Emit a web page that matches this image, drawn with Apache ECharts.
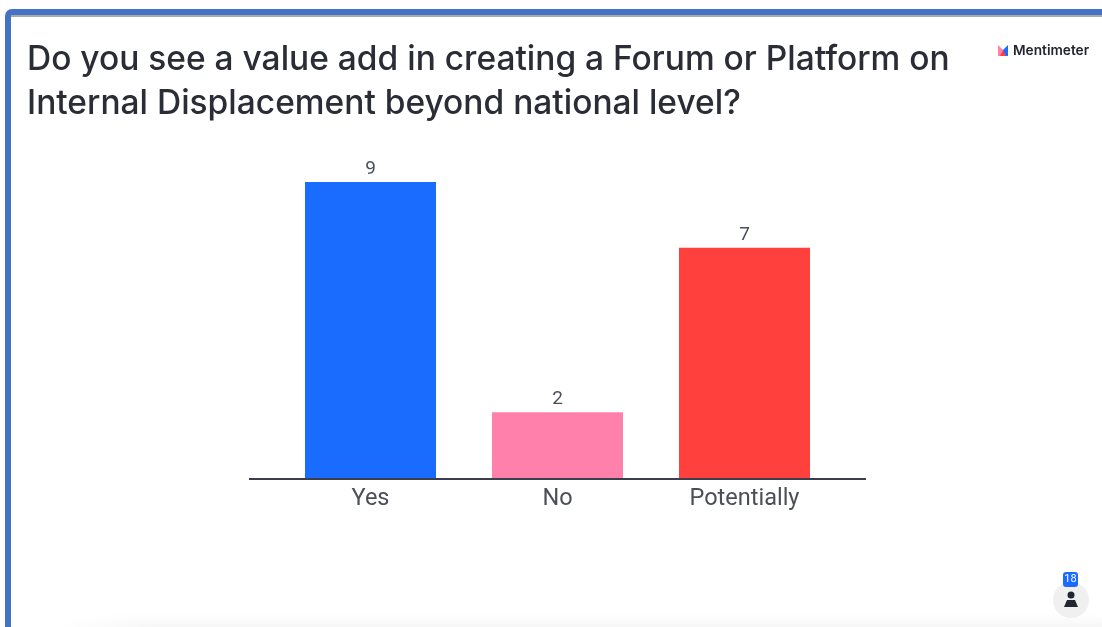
<!DOCTYPE html>
<html>
<head>
<meta charset="utf-8">
<style>html,body{margin:0;padding:0;background:#fff}#chart{width:1102px;height:627px}</style>
<script src="https://cdn.jsdelivr.net/npm/echarts@6/dist/echarts.min.js"></script>
</head>
<body>
<div id="chart"></div>
<script>
// Poll results
const categories = ['Yes', 'No', 'Potentially'];
const responses = [9, 2, 7];
const barColors = ['#196cff', '#ff80ab', '#ff403d'];
const questionLines = [
  'Do you see a value add in creating a Forum or Platform on',
  'Internal Displacement beyond national level?'
];
const brandName = 'Mentimeter';
const participantCount = '18';

const chart = echarts.init(document.getElementById('chart'), null, { renderer: 'canvas' });
const textFont = 'Inter, "Noto Sans", sans-serif';
const labelFont = 'Roboto, "Noto Sans", sans-serif';

chart.setOption({
  backgroundColor: '#ffffff',
  animation: false,
  title: {
    text: questionLines.join('\n'),
    left: 27,
    top: 38,
    padding: 0,
    textStyle: { fontFamily: textFont, fontSize: 33.5, fontWeight: 500, color: '#2a2d36', lineHeight: 44 }
  },
  grid: { left: 277, width: 561, top: 149, height: 329 },
  xAxis: {
    type: 'category',
    data: categories,
    axisLine: { show: false },
    axisTick: { show: false },
    axisLabel: { fontFamily: labelFont, fontSize: 23.5, color: '#4b4f58', margin: 9 }
  },
  yAxis: { type: 'value', min: 0, max: 10, show: false },
  series: [{
    type: 'bar',
    barWidth: 131,
    data: responses.map((value, i) => ({ value, itemStyle: { color: barColors[i] } })),
    label: { show: true, position: 'top', distance: 3, fontFamily: labelFont, fontSize: 19, color: '#4b4f58' }
  }],
  graphic: [
    // Slide frame
    { type: 'rect', z: -10, shape: { x: 8, y: 12, width: 1300, height: 900, r: 4 },
      style: { fill: '#ffffff', stroke: '#4472c4', lineWidth: 6 } },
    { type: 'rect', z: -9, shape: { x: 11, y: 15, width: 1091, height: 2 }, style: { fill: '#a9a9ad' } },
    // Soft edge along the bottom of the slide, fading out towards the left
    { type: 'rect', z: -9, shape: { x: 60, y: 614, width: 1042, height: 13 },
      style: { fill: new echarts.graphic.LinearGradient(0, 0, 0, 1, [
        { offset: 0, color: 'rgba(246,246,246,0)' }, { offset: 1, color: 'rgba(246,246,246,1)' }
      ]) } },
    { type: 'rect', z: -8, shape: { x: 60, y: 614, width: 100, height: 13 },
      style: { fill: new echarts.graphic.LinearGradient(0, 0, 1, 0, [
        { offset: 0, color: 'rgba(255,255,255,1)' }, { offset: 1, color: 'rgba(255,255,255,0)' }
      ]) } },
    // Baseline
    { type: 'line', z: 10, shape: { x1: 249, y1: 479, x2: 866, y2: 479 },
      style: { stroke: '#3b3f4c', lineWidth: 2 } },
    // Brand mark
    { type: 'polygon', shape: { points: [[998, 45], [1003, 50], [1003, 56], [998, 56]] }, style: { fill: '#ff80ab' } },
    { type: 'polygon', shape: { points: [[1003, 50], [1008, 45], [1008, 56], [1003, 56]] }, style: { fill: '#196cff' } },
    { type: 'polygon', shape: { points: [[1000, 56], [1003, 50], [1006, 56]] }, style: { fill: '#ff403d' } },
    { type: 'text', style: { x: 1013, y: 51, text: brandName, fontFamily: textFont, fontSize: 13.7, fontWeight: 600,
      fill: '#23262f', verticalAlign: 'middle' } },
    // Participant counter
    { type: 'circle', shape: { cx: 1071, cy: 600, r: 18 }, style: { fill: '#f0f0f0' } },
    { type: 'circle', shape: { cx: 1071, cy: 595, r: 3.5 }, style: { fill: '#23262f' } },
    { type: 'polygon', shape: { points: [[1064, 607], [1067, 600], [1075, 600], [1078, 607]] }, style: { fill: '#23262f' } },
    { type: 'rect', shape: { x: 1063, y: 572, width: 15, height: 15, r: 3 }, style: { fill: '#196cff' } },
    { type: 'text', style: { x: 1070.5, y: 579.5, text: participantCount, fontFamily: labelFont, fontSize: 11,
      fill: '#ffffff', align: 'center', verticalAlign: 'middle' } }
  ]
});
</script>
</body>
</html>
